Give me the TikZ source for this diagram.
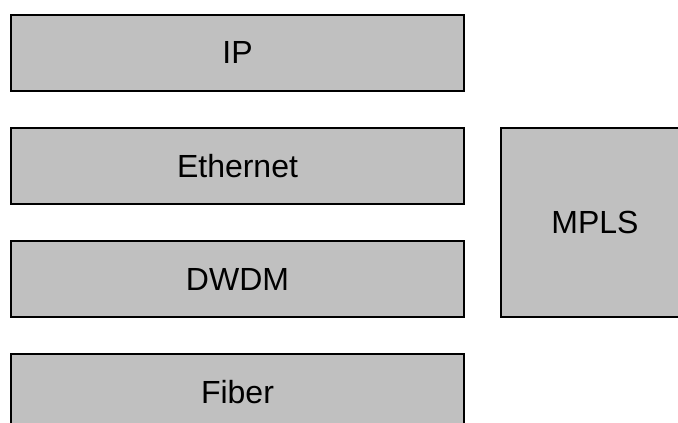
\documentclass[tikz,border=0pt]{standalone}
\usepackage{fontspec}
\setmainfont{Liberation Sans}
\definecolor{boxgray}{HTML}{C0C0C0}
\begin{document}
\begin{tikzpicture}[x=1pt,y=-1pt,
  layer/.style={draw=black, line width=2pt, fill=boxgray, inner sep=0pt,
    font=\fontsize{32}{38}\selectfont, text=black}]
\useasboundingbox (0,0) rectangle (678,423);
\clip (0,0) rectangle (678,423);
\node[layer, minimum width=453pt, minimum height=76pt] (ip) at (237.5,52.5) {IP};
\node[layer, minimum width=453pt, minimum height=76pt] (eth) at (237.5,166) {Ethernet};
\node[layer, minimum width=453pt, minimum height=76pt] (dwdm) at (237.5,279) {DWDM};
\node[layer, minimum width=453pt, minimum height=76pt] (fiber) at (237.5,392) {Fiber};
\node[layer, minimum width=188pt, minimum height=189pt] (mpls) at (595,222.5) {MPLS};
\end{tikzpicture}
\end{document}
